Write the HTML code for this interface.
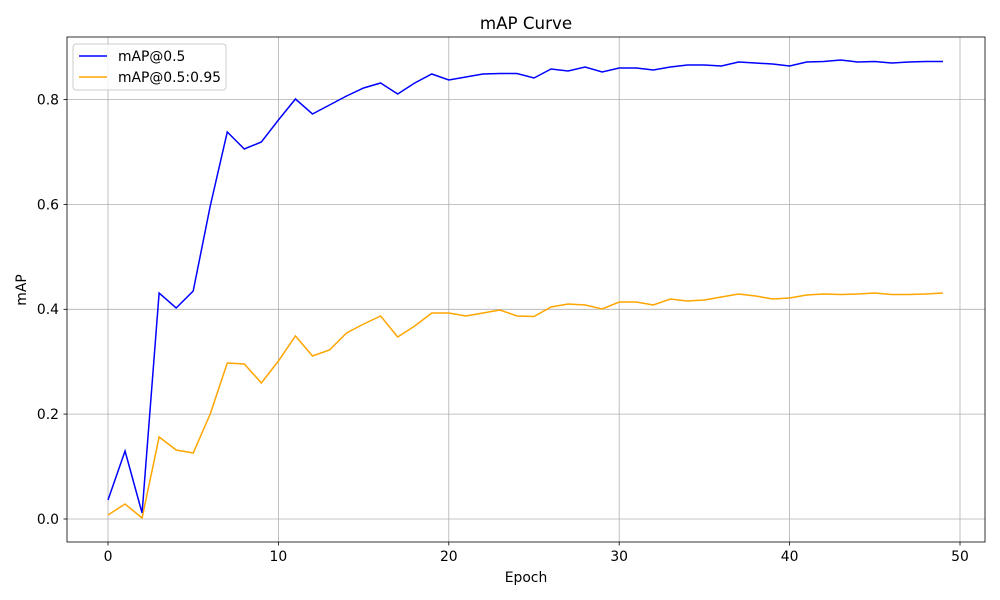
<!DOCTYPE html>
<html><head><style>body{margin:0;background:#fff}svg{display:block}text{font-family:"DejaVu Sans","Liberation Sans",sans-serif;fill:#000}</style></head><body>
<svg width="1000" height="600" viewBox="0 0 1000 600">
<rect width="1000" height="600" fill="#fff"/>
<g stroke="#b0b0b0" stroke-width="0.8">
<line x1="108" y1="37" x2="108" y2="542"/><line x1="278.4" y1="37" x2="278.4" y2="542"/><line x1="448.8" y1="37" x2="448.8" y2="542"/><line x1="619.2" y1="37" x2="619.2" y2="542"/><line x1="789.6" y1="37" x2="789.6" y2="542"/><line x1="960" y1="37" x2="960" y2="542"/>
<line x1="67" y1="519" x2="985" y2="519"/><line x1="67" y1="414.1" x2="985" y2="414.1"/><line x1="67" y1="309.3" x2="985" y2="309.3"/><line x1="67" y1="204.4" x2="985" y2="204.4"/><line x1="67" y1="99.5" x2="985" y2="99.5"/>
</g>
<g transform="translate(108,0) scale(17.04,1)" fill="none" stroke-width="1.5">
<polyline vector-effect="non-scaling-stroke" stroke="#0000ff" points="0,500 1,451 2,513 3,293 4,308 5,291 6,206 7,132 8,149 9,142 10,120 11,99 12,114 13,105 14,96 15,88 16,83 17,94 18,83 19,74 20,80 21,77 22,74 23,73.5 24,73.5 25,78 26,69 27,71 28,67 29,72 30,68 31,68 32,70 33,67 34,65 35,65 36,66 37,62 38,63 39,64 40,66 41,62 42,61.5 43,60 44,62 45,61.5 46,63 47,62 48,61.5 49,61.5"/>
<polyline vector-effect="non-scaling-stroke" stroke="#ffa500" points="0,515 1,504 2,518 3,437 4,450 5,453 6,414 7,363 8,364 9,383 10,361 11,336 12,356 13,350 14,333 15,324 16,316 17,337 18,326 19,313 20,313 21,316 22,313 23,310 24,316 25,316.5 26,307 27,304 28,305 29,309 30,302 31,302 32,305 33,299 34,301 35,300 36,297 37,294 38,296 39,299 40,298 41,295 42,294 43,294.5 44,294 45,293 46,294.5 47,294.5 48,294 49,293"/>
</g>
<rect x="67" y="37" width="918" height="505" fill="none" stroke="#000" stroke-width="0.8"/>
<g stroke="#000" stroke-width="0.8">
<line x1="108" y1="542" x2="108" y2="545.5"/><line x1="278.4" y1="542" x2="278.4" y2="545.5"/><line x1="448.8" y1="542" x2="448.8" y2="545.5"/><line x1="619.2" y1="542" x2="619.2" y2="545.5"/><line x1="789.6" y1="542" x2="789.6" y2="545.5"/><line x1="960" y1="542" x2="960" y2="545.5"/>
<line x1="63.5" y1="519" x2="67" y2="519"/><line x1="63.5" y1="414.1" x2="67" y2="414.1"/><line x1="63.5" y1="309.3" x2="67" y2="309.3"/><line x1="63.5" y1="204.4" x2="67" y2="204.4"/><line x1="63.5" y1="99.5" x2="67" y2="99.5"/>
</g>
<g font-size="13.9" text-anchor="middle">
<text x="108" y="561">0</text><text x="278.4" y="561">10</text><text x="448.8" y="561">20</text><text x="619.2" y="561">30</text><text x="789.6" y="561">40</text><text x="960" y="561">50</text>
</g>
<g font-size="13.9" text-anchor="end">
<text x="59" y="524">0.0</text><text x="59" y="419">0.2</text><text x="59" y="314">0.4</text><text x="59" y="209.5">0.6</text><text x="59" y="104.5">0.8</text>
</g>
<text x="526" y="582" font-size="13.9" text-anchor="middle">Epoch</text>
<text x="0" y="0" font-size="13.9" text-anchor="middle" transform="translate(26,290) rotate(-90)">mAP</text>
<text x="526" y="29" font-size="16.7" text-anchor="middle">mAP Curve</text>
<rect x="73" y="44" width="153" height="46" rx="3" fill="#fff" fill-opacity="0.8" stroke="#ccc"/>
<line x1="79" y1="56" x2="107" y2="56" stroke="#0000ff" stroke-width="1.5"/>
<line x1="79" y1="77" x2="107" y2="77" stroke="#ffa500" stroke-width="1.5"/>
<text x="118" y="61" font-size="13.9">mAP@0.5</text>
<text x="118" y="82" font-size="13.9">mAP@0.5:0.95</text>
</svg>
</body></html>
